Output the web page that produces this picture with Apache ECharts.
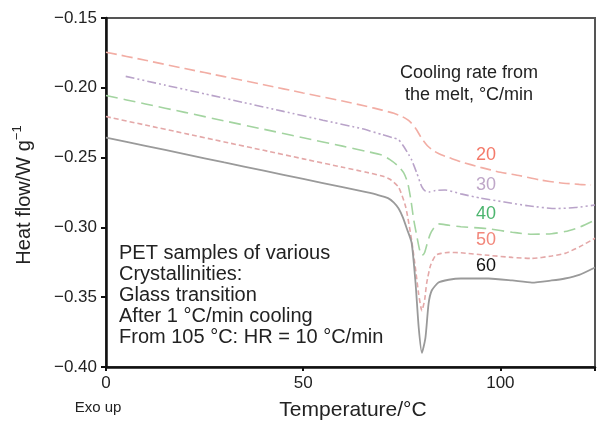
<!DOCTYPE html>
<html>
<head>
<meta charset="utf-8">
<script src="https://cdn.jsdelivr.net/npm/echarts@6/dist/echarts.min.js"></script>
<style>html,body{margin:0;padding:0;background:#fff;}#c{width:598px;height:425px;}</style>
</head>
<body>
<div id="c"></div>
<script>
// Temperature (°C) and heat flow (W/g) per cooling rate
const t20 = [0,10,20,30,40,50,60,66,70,73,75,77,78.5,80,81.5,83,85,87,90,95,100,105,110,115,120,123];
const v20 = [-0.1745,-0.1803,-0.1862,-0.1920,-0.1978,-0.2037,-0.2095,-0.2132,-0.2160,-0.2183,-0.2205,-0.2240,-0.2290,-0.2360,-0.2415,-0.2450,-0.2480,-0.2500,-0.2530,-0.2570,-0.2605,-0.2630,-0.2660,-0.2680,-0.2692,-0.2696];

const t30 = [5,15,25,35,45,55,65,70,73,74.2,75.5,76.8,77.5,78.8,80.1,81,82,83.5,86,90,95,101,107,114,119,124];
const v30 = [-0.1918,-0.1981,-0.2043,-0.2106,-0.2169,-0.2232,-0.2294,-0.2335,-0.2360,-0.2372,-0.2420,-0.2480,-0.2516,-0.2610,-0.2710,-0.2740,-0.2746,-0.2736,-0.2732,-0.2760,-0.2790,-0.2818,-0.2845,-0.2865,-0.2858,-0.2840];

const t40 = [0,10,20,30,40,50,60,66,70,72,74,75.5,76.5,77.3,78,78.8,79.6,80.2,80.8,81.5,82.2,83,84.3,87,90,97,103,108,113,116.4,120,124];
const v40 = [-0.2055,-0.2116,-0.2176,-0.2237,-0.2297,-0.2358,-0.2418,-0.2455,-0.2482,-0.2515,-0.2558,-0.2610,-0.2680,-0.2800,-0.2940,-0.3060,-0.3170,-0.3200,-0.3180,-0.3110,-0.3050,-0.3010,-0.2975,-0.2985,-0.2995,-0.3010,-0.3035,-0.3049,-0.3045,-0.3030,-0.3000,-0.2948];

const t50 = [0,10,20,30,40,50,60,66,70,72,74.2,76,77.5,78.5,79.3,80.1,80.8,81.3,82.3,83.6,85,87,90,97,103,108,113,116.4,120,124];
const v50 = [-0.2206,-0.2267,-0.2327,-0.2388,-0.2448,-0.2509,-0.2569,-0.2605,-0.2632,-0.2655,-0.2712,-0.2854,-0.3092,-0.3300,-0.3480,-0.3597,-0.3520,-0.3402,-0.3272,-0.3200,-0.3186,-0.3179,-0.3182,-0.3200,-0.3215,-0.3222,-0.3205,-0.3186,-0.3140,-0.3078];

const t60 = [0,10,20,30,40,50,60,66,69,71.5,73,74.2,75.3,76.3,77.5,78.5,79.3,80.1,81,81.8,82.6,84.3,86.9,90,97,103,108,113,116.4,120,124];
const v60 = [-0.2357,-0.2416,-0.2475,-0.2535,-0.2594,-0.2653,-0.2712,-0.2748,-0.2768,-0.2790,-0.2822,-0.2865,-0.2930,-0.3010,-0.3110,-0.3400,-0.3719,-0.3899,-0.3791,-0.3546,-0.3452,-0.3395,-0.3375,-0.3366,-0.3366,-0.3380,-0.3395,-0.3380,-0.3366,-0.3340,-0.3287];

const xTicks = [0, 50, 100];
const yTicks = [-0.40, -0.35, -0.30, -0.25, -0.20, -0.15];
const rateLabels = ['20','30','40','50','60'];

function pairs(t, v) { return t.map((x, i) => [x, v[i]]); }

const FONT = '"Liberation Sans", Arial, Helvetica, sans-serif';
const chart = echarts.init(document.getElementById('c'), null, {renderer: 'canvas'});

function mk(name, t, v, color, dash, width) {
  return {
    name: name, type: 'line', data: pairs(t, v), showSymbol: false, symbol: 'none',
    smooth: 0.2, animation: false,
    lineStyle: {color: color, width: width, type: dash}
  };
}

chart.setOption({
  animation: false,
  backgroundColor: '#fff',
  grid: {left: 106, right: 1, top: 18, bottom: 58, show: true, borderColor: '#555', borderWidth: 2, backgroundColor: 'transparent'},
  xAxis: {
    type: 'value', min: xTicks[0], max: 124, interval: 50,
    axisLine: {show: true, lineStyle: {color: '#111', width: 2.5}},
    axisTick: {show: true, length: 4, lineStyle: {color: '#111', width: 2}},
    axisLabel: {color: '#222', fontSize: 17, fontFamily: FONT, margin: 8,
      formatter: v => xTicks.indexOf(v) >= 0 ? String(v) : ''},
    splitLine: {show: false}
  },
  yAxis: {
    type: 'value', min: yTicks[0], max: yTicks[yTicks.length-1], interval: 0.05,
    axisLine: {show: true, lineStyle: {color: '#111', width: 2.5}},
    axisTick: {show: true, length: 5, lineStyle: {color: '#111', width: 2}},
    axisLabel: {color: '#222', fontSize: 17, fontFamily: FONT, margin: 9,
      formatter: v => v.toFixed(2).replace('-', '\u2212')},
    splitLine: {show: false}
  },
  series: [
    mk('20', t20, v20, '#f2ada4', [11, 5], 1.6),
    mk('30', t30, v30, '#b9a3c9', [9, 3, 2, 3, 2, 3], 1.6),
    mk('40', t40, v40, '#a3d4a0', [12, 6], 1.6),
    mk('50', t50, v50, '#e4a8a8', [5, 3], 1.6),
    mk('60', t60, v60, '#9a9a9a', 'solid', 1.8)
  ],
  graphic: [
    {type: 'text', x: 469, y: 84, style: {text: 'Cooling rate from\nthe melt, \u00b0C/min', font: '18px ' + FONT, fill: '#222', align: 'center', verticalAlign: 'middle', lineHeight: 22}},
    {type: 'text', x: 486, y: 155, style: {text: rateLabels[0], font: '18px ' + FONT, fill: '#f47a6a', align: 'center', verticalAlign: 'middle'}},
    {type: 'text', x: 486, y: 185, style: {text: rateLabels[1], font: '18px ' + FONT, fill: '#bfa7c8', align: 'center', verticalAlign: 'middle'}},
    {type: 'text', x: 486, y: 214, style: {text: rateLabels[2], font: '18px ' + FONT, fill: '#4cb56e', align: 'center', verticalAlign: 'middle'}},
    {type: 'text', x: 486, y: 240, style: {text: rateLabels[3], font: '18px ' + FONT, fill: '#f2877b', align: 'center', verticalAlign: 'middle'}},
    {type: 'text', x: 486, y: 266, style: {text: rateLabels[4], font: '18px ' + FONT, fill: '#111', align: 'center', verticalAlign: 'middle'}},
    {type: 'text', x: 119, y: 295, style: {text: 'PET samples of various\nCrystallinities:\nGlass transition\nAfter 1 \u00b0C/min cooling\nFrom 105 \u00b0C: HR = 10 \u00b0C/min', font: '20px ' + FONT, fill: '#222', align: 'left', verticalAlign: 'middle', lineHeight: 21}},
    {type: 'text', x: 98, y: 408, style: {text: 'Exo up', font: '15px ' + FONT, fill: '#222', align: 'center', verticalAlign: 'middle'}},
    {type: 'text', x: 353, y: 410, style: {text: 'Temperature/\u00b0C', font: '21px ' + FONT, fill: '#222', align: 'center', verticalAlign: 'middle'}},
    {type: 'text', x: 24, y: 195, rotation: Math.PI / 2,
      style: {text: '{a|Heat flow/W g}{s|\u22121}', align: 'center', verticalAlign: 'middle', fill: '#222',
        rich: {a: {font: '20px ' + FONT, fill: '#222', lineHeight: 26}, s: {font: '13px ' + FONT, fill: '#222', verticalAlign: 'top', lineHeight: 14}}}}
  ]
});
</script>
</body>
</html>
